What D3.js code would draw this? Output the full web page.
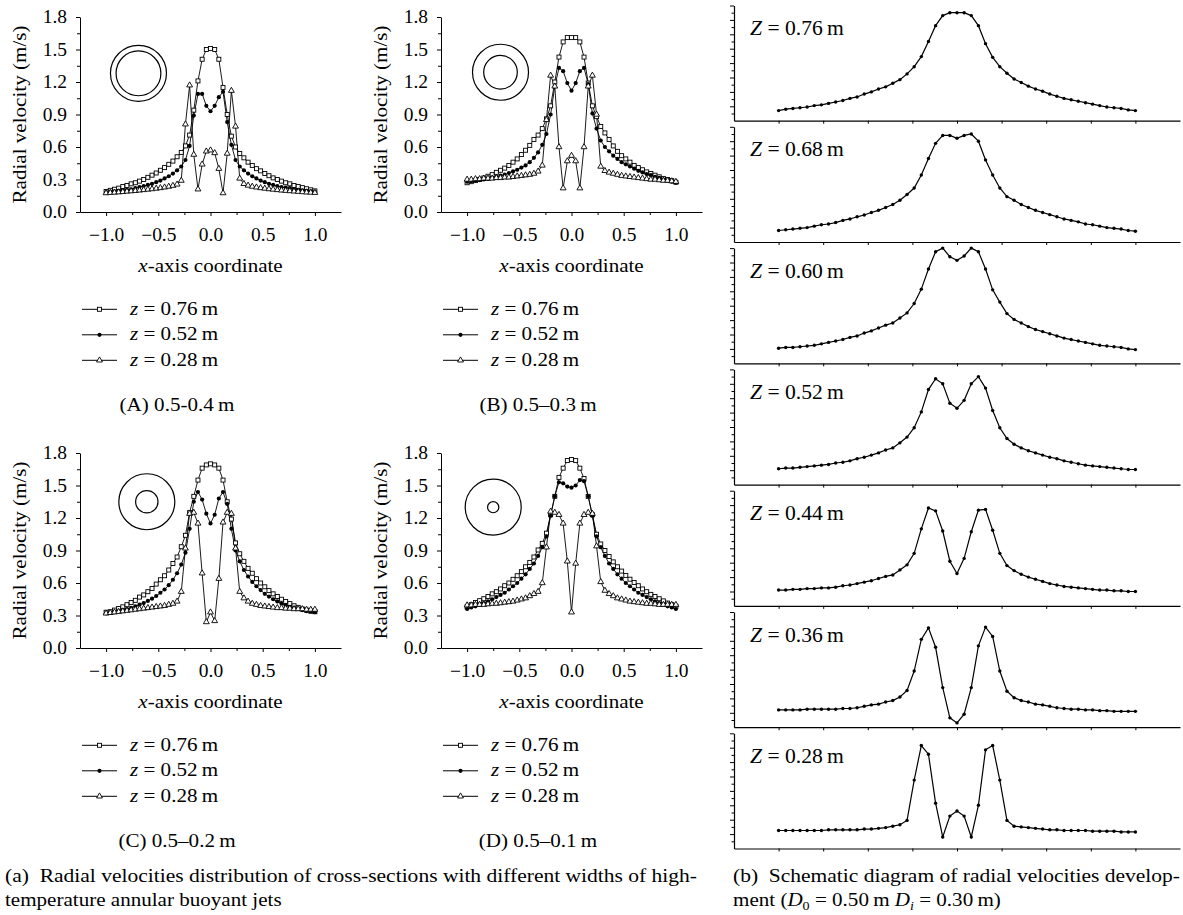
<!DOCTYPE html>
<html><head><meta charset="utf-8">
<script src="https://cdn.jsdelivr.net/npm/d3@7"></script>
<style>
body{margin:0;background:#fff;}
svg text{font-family:"Liberation Serif","Times New Roman",serif;fill:#000;}
</style></head><body>
<svg id="chart" width="1183" height="915"></svg>
<script>
// ---------------- DATA ----------------
const xCoords = [-1.00,-0.96,-0.92,-0.88,-0.84,-0.80,-0.76,-0.72,-0.68,-0.64,-0.60,-0.56,-0.52,-0.48,-0.44,-0.40,-0.36,-0.32,-0.28,-0.24,-0.20,-0.16,-0.12,-0.08,-0.04,0.00,0.04,0.08,0.12,0.16,0.20,0.24,0.28,0.32,0.36,0.40,0.44,0.48,0.52,0.56,0.60,0.64,0.68,0.72,0.76,0.80,0.84,0.88,0.92,0.96,1.00];
const seriesZ = [0.76, 0.52, 0.28];
const panelCaptions = ["(A) 0.5-0.4\u2009m", "(B) 0.5\u20130.3\u2009m", "(C) 0.5\u20130.2\u2009m", "(D) 0.5\u20130.1\u2009m"];
const outerDiameter = 0.5;
const innerDiameters = [0.4, 0.3, 0.2, 0.1];
const yTicks = [0, 0.3, 0.6, 0.9, 1.2, 1.5, 1.8];
const yMinorTicks = [0.15, 0.45, 0.75, 1.05, 1.35, 1.65];
const xTicks = [-1, -0.5, 0, 0.5, 1];
const xMinorTicks = [-0.75, -0.25, 0.25, 0.75];

// Panel A (0.5-0.4 m)
const A_z076 = [0.19,0.20,0.21,0.22,0.235,0.245,0.26,0.27,0.285,0.30,0.32,0.34,0.36,0.385,0.41,0.44,0.47,0.51,0.55,0.61,0.71,0.94,1.21,1.41,1.50,1.51,1.50,1.41,1.15,0.90,0.70,0.60,0.54,0.50,0.46,0.43,0.40,0.38,0.355,0.335,0.315,0.30,0.285,0.27,0.26,0.245,0.235,0.225,0.215,0.205,0.195];
const A_z052 = [0.18,0.185,0.19,0.195,0.20,0.205,0.21,0.22,0.23,0.24,0.25,0.26,0.275,0.29,0.31,0.33,0.355,0.385,0.42,0.48,0.61,0.89,1.09,1.09,0.98,0.93,0.98,1.06,1.11,0.83,0.62,0.48,0.42,0.385,0.355,0.33,0.31,0.29,0.275,0.26,0.25,0.24,0.23,0.225,0.22,0.21,0.205,0.20,0.195,0.19,0.185];
const A_z028 = [0.175,0.178,0.18,0.183,0.186,0.19,0.193,0.196,0.20,0.204,0.208,0.212,0.217,0.222,0.228,0.235,0.243,0.255,0.29,0.81,1.17,0.53,0.21,0.44,0.56,0.57,0.545,0.40,0.175,0.54,1.12,0.79,0.31,0.26,0.245,0.235,0.228,0.222,0.217,0.212,0.208,0.204,0.20,0.197,0.194,0.191,0.188,0.185,0.182,0.18,0.178];
// Panel B (0.5-0.3 m)
const B_z076 = [0.27,0.28,0.29,0.30,0.314,0.33,0.345,0.366,0.385,0.405,0.43,0.46,0.49,0.53,0.57,0.615,0.67,0.71,0.77,0.86,0.98,1.20,1.43,1.57,1.61,1.61,1.61,1.57,1.43,1.19,0.98,0.88,0.79,0.73,0.67,0.61,0.56,0.52,0.49,0.46,0.43,0.41,0.39,0.37,0.355,0.34,0.325,0.31,0.30,0.29,0.275];
const B_z052 = [0.28,0.285,0.29,0.295,0.30,0.305,0.315,0.325,0.335,0.345,0.36,0.375,0.39,0.41,0.43,0.46,0.50,0.55,0.62,0.72,0.90,1.16,1.33,1.30,1.19,1.12,1.19,1.30,1.33,1.18,0.91,0.77,0.66,0.60,0.56,0.52,0.49,0.46,0.44,0.42,0.40,0.38,0.365,0.35,0.34,0.325,0.315,0.30,0.29,0.28,0.27];
const B_z028 = [0.30,0.30,0.305,0.305,0.31,0.31,0.31,0.315,0.315,0.32,0.32,0.325,0.33,0.335,0.34,0.345,0.355,0.375,0.43,0.85,1.26,1.16,0.60,0.22,0.47,0.52,0.47,0.22,0.60,1.16,1.26,0.90,0.42,0.38,0.365,0.355,0.345,0.335,0.33,0.325,0.32,0.315,0.31,0.305,0.30,0.30,0.295,0.29,0.29,0.285,0.28];
// Panel C (0.5-0.2 m)
const C_z076 = [0.33,0.335,0.35,0.365,0.38,0.40,0.42,0.44,0.47,0.49,0.52,0.55,0.59,0.63,0.667,0.72,0.78,0.84,0.935,1.04,1.25,1.40,1.55,1.66,1.69,1.70,1.69,1.66,1.55,1.35,1.19,0.97,0.87,0.80,0.735,0.69,0.64,0.60,0.565,0.53,0.50,0.475,0.45,0.43,0.41,0.39,0.375,0.36,0.35,0.34,0.335];
const C_z052 = [0.32,0.325,0.33,0.34,0.35,0.36,0.37,0.385,0.40,0.415,0.435,0.455,0.48,0.51,0.54,0.58,0.63,0.69,0.77,0.88,1.10,1.35,1.44,1.37,1.24,1.15,1.23,1.38,1.44,1.33,1.10,0.90,0.80,0.72,0.66,0.61,0.57,0.535,0.50,0.475,0.45,0.43,0.41,0.395,0.38,0.37,0.36,0.35,0.34,0.335,0.33];
const C_z028 = [0.32,0.325,0.33,0.335,0.34,0.345,0.35,0.355,0.36,0.365,0.37,0.375,0.38,0.385,0.39,0.40,0.41,0.43,0.52,0.92,1.24,1.25,1.15,0.69,0.24,0.33,0.25,0.64,1.16,1.25,1.24,0.92,0.52,0.46,0.43,0.41,0.40,0.39,0.385,0.38,0.375,0.37,0.37,0.365,0.365,0.36,0.36,0.36,0.355,0.355,0.355];
// Panel D (0.5-0.1 m)
const D_z076 = [0.38,0.40,0.42,0.437,0.455,0.475,0.50,0.52,0.545,0.575,0.60,0.634,0.667,0.705,0.75,0.79,0.84,0.905,0.966,1.06,1.23,1.40,1.575,1.66,1.73,1.74,1.73,1.66,1.565,1.40,1.23,1.05,0.96,0.90,0.845,0.795,0.75,0.71,0.67,0.635,0.605,0.575,0.545,0.52,0.495,0.475,0.455,0.435,0.415,0.40,0.385];
const D_z052 = [0.36,0.375,0.385,0.40,0.415,0.43,0.45,0.47,0.49,0.51,0.54,0.57,0.60,0.64,0.68,0.73,0.78,0.85,0.93,1.03,1.22,1.40,1.53,1.52,1.49,1.48,1.50,1.55,1.54,1.40,1.22,1.03,0.93,0.85,0.78,0.73,0.68,0.64,0.60,0.57,0.54,0.51,0.49,0.47,0.45,0.43,0.415,0.40,0.385,0.375,0.36];
const D_z028 = [0.395,0.395,0.40,0.40,0.40,0.405,0.41,0.41,0.415,0.42,0.425,0.43,0.44,0.45,0.46,0.48,0.50,0.52,0.60,0.93,1.26,1.25,1.23,1.15,0.80,0.33,0.78,1.15,1.23,1.25,1.24,0.94,0.61,0.53,0.50,0.48,0.46,0.45,0.44,0.43,0.425,0.42,0.415,0.41,0.41,0.405,0.40,0.40,0.40,0.40,0.40];

// Right: schematic development (D0 = 0.50 m, Di = 0.30 m)
const rightZ = [0.76, 0.68, 0.60, 0.52, 0.44, 0.36, 0.28];
const R_z076 = [0.14,0.16,0.17,0.18,0.19,0.21,0.22,0.24,0.26,0.28,0.31,0.33,0.37,0.40,0.44,0.47,0.52,0.57,0.65,0.75,0.89,1.10,1.32,1.46,1.50,1.50,1.50,1.46,1.32,1.07,0.88,0.75,0.66,0.58,0.53,0.48,0.44,0.41,0.37,0.34,0.31,0.29,0.27,0.25,0.23,0.21,0.19,0.18,0.17,0.15,0.14];
const R_z068 = [0.16,0.17,0.18,0.19,0.20,0.22,0.24,0.25,0.27,0.30,0.32,0.35,0.375,0.41,0.44,0.48,0.52,0.58,0.66,0.75,0.93,1.16,1.37,1.48,1.48,1.44,1.48,1.50,1.40,1.14,0.93,0.75,0.63,0.58,0.52,0.48,0.44,0.41,0.38,0.35,0.32,0.30,0.28,0.25,0.24,0.22,0.20,0.19,0.18,0.16,0.15];
const R_z060 = [0.21,0.22,0.22,0.23,0.24,0.25,0.27,0.29,0.31,0.33,0.36,0.38,0.42,0.45,0.49,0.53,0.56,0.63,0.70,0.83,1.03,1.31,1.55,1.60,1.48,1.43,1.49,1.60,1.55,1.31,1.02,0.85,0.69,0.61,0.56,0.51,0.47,0.44,0.41,0.38,0.35,0.33,0.31,0.29,0.27,0.25,0.24,0.23,0.22,0.20,0.19];
const R_z052 = [0.22,0.23,0.23,0.24,0.25,0.26,0.27,0.28,0.30,0.31,0.33,0.36,0.38,0.41,0.44,0.48,0.51,0.58,0.66,0.79,1.01,1.32,1.47,1.40,1.13,1.06,1.17,1.40,1.50,1.34,1.03,0.79,0.64,0.56,0.51,0.47,0.44,0.41,0.38,0.36,0.33,0.31,0.29,0.27,0.26,0.25,0.24,0.23,0.22,0.21,0.21];
const R_z044 = [0.22,0.22,0.23,0.23,0.24,0.24,0.25,0.25,0.26,0.28,0.29,0.31,0.33,0.35,0.38,0.41,0.43,0.50,0.57,0.73,1.07,1.36,1.32,1.04,0.62,0.45,0.66,1.03,1.33,1.34,1.05,0.73,0.56,0.49,0.44,0.40,0.37,0.34,0.31,0.29,0.27,0.26,0.25,0.24,0.23,0.22,0.22,0.21,0.21,0.20,0.20];
const R_z036 = [0.24,0.24,0.24,0.24,0.25,0.25,0.25,0.25,0.25,0.26,0.26,0.27,0.29,0.31,0.32,0.35,0.37,0.42,0.51,0.78,1.22,1.38,1.11,0.55,0.13,0.06,0.18,0.55,1.13,1.39,1.26,0.78,0.50,0.41,0.37,0.35,0.32,0.31,0.29,0.27,0.26,0.25,0.25,0.24,0.24,0.23,0.23,0.22,0.22,0.22,0.22];
const R_z028 = [0.25,0.25,0.25,0.25,0.25,0.25,0.25,0.26,0.26,0.26,0.26,0.26,0.27,0.27,0.28,0.29,0.31,0.33,0.39,0.95,1.43,1.31,0.63,0.16,0.45,0.52,0.45,0.16,0.60,1.37,1.43,0.95,0.39,0.31,0.30,0.29,0.28,0.27,0.26,0.26,0.25,0.25,0.25,0.25,0.24,0.24,0.24,0.24,0.23,0.23,0.23];
const rightSeries = [R_z076, R_z068, R_z060, R_z052, R_z044, R_z036, R_z028];
const rightYTicks = [0.1,0.2,0.3,0.4,0.5,0.6,0.7,0.8,0.9,1.0,1.1,1.2,1.3,1.4,1.5,1.6];
const rightXTicks = [-1,-0.75,-0.5,-0.25,0,0.25,0.5,0.75,1];

// ---------------- DRAW ----------------
const svg = d3.select("#chart");
svg.append("rect").attr("width",1183).attr("height",915).attr("fill","#fff");
const FS = 18;
const markerTypes = ["square","dot","triangle"];
const triPath = d3.symbol().type(d3.symbolTriangle).size(15)();

function drawMarker(g, type, cx, cy){
  if(type==="square"){
    g.append("rect").attr("x",cx-2).attr("y",cy-2).attr("width",4).attr("height",4)
      .attr("fill","#fff").attr("stroke","#000").attr("stroke-width",0.9);
  } else if(type==="dot"){
    g.append("circle").attr("cx",cx).attr("cy",cy).attr("r",2.1).attr("fill","#000");
  } else {
    g.append("path").attr("d",triPath).attr("transform",`translate(${cx},${cy})`)
      .attr("fill","#fff").attr("stroke","#000").attr("stroke-width",0.9);
  }
}
function styleAxis(sel){
  sel.select(".domain").attr("stroke","#000").attr("stroke-width",1);
  sel.selectAll(".tick line").attr("stroke","#000").attr("stroke-width",1);
  sel.selectAll("text").attr("font-size",FS).attr("fill","#000").attr("class","tick-label");
}

const PW = 261, PH = 195;
const leftPanels = [
  {left:80,  top:17,  series:[A_z076,A_z052,A_z028], inset:[-0.69,1.28]},
  {left:441, top:17,  series:[B_z076,B_z052,B_z028], inset:[-0.68,1.29]},
  {left:80,  top:453, series:[C_z076,C_z052,C_z028], inset:[-0.61,1.35]},
  {left:441, top:453, series:[D_z076,D_z052,D_z028], inset:[-0.75,1.30]}
];
const insetPxPerM = 112;

leftPanels.forEach((p, pi) => {
  const g = svg.append("g").attr("transform",`translate(${p.left},${p.top})`);
  const x = d3.scaleLinear().domain([-1.25,1.25]).range([0,PW]);
  const y = d3.scaleLinear().domain([0,1.8]).range([PH,0]);

  // axes
  g.append("g").attr("transform",`translate(0,${PH})`)
    .call(d3.axisBottom(x).tickValues(xMinorTicks).tickSize(3).tickSizeOuter(0).tickFormat(""))
    .call(s=>{s.select(".domain").remove(); s.selectAll("line").attr("stroke","#000");});
  g.append("g").attr("transform",`translate(0,${PH})`)
    .call(d3.axisBottom(x).tickValues(xTicks).tickSize(4).tickSizeOuter(0).tickPadding(12).tickFormat(d3.format(".1f")))
    .call(styleAxis);
  g.append("g")
    .call(d3.axisLeft(y).tickValues(yMinorTicks).tickSize(3).tickSizeOuter(0).tickFormat(""))
    .call(s=>{s.select(".domain").remove(); s.selectAll("line").attr("stroke","#000");});
  g.append("g")
    .call(d3.axisLeft(y).tickValues(yTicks).tickSize(4).tickSizeOuter(0).tickPadding(9).tickFormat(d3.format(".1f")))
    .call(styleAxis);

  // axis titles
  g.append("text").attr("class","wide")
    .attr("transform",`translate(-54,${PH/2}) rotate(-90)`)
    .attr("text-anchor","middle").attr("font-size",FS).text("Radial velocity (m/s)")
    .attr("data-len",178);
  const xt = g.append("text").attr("class","wide").attr("x",x(0)).attr("y",255)
    .attr("text-anchor","middle").attr("font-size",FS);
  xt.append("tspan").attr("font-style","italic").text("x");
  xt.append("tspan").text("-axis coordinate");

  // annulus inset
  const cx = x(p.inset[0]), cy = y(p.inset[1]);
  g.append("circle").attr("cx",cx).attr("cy",cy).attr("r",outerDiameter/2*insetPxPerM)
    .attr("fill","none").attr("stroke","#000").attr("stroke-width",1.2);
  g.append("circle").attr("cx",cx).attr("cy",cy).attr("r",innerDiameters[pi]/2*insetPxPerM)
    .attr("fill","none").attr("stroke","#000").attr("stroke-width",1.2);

  // lines
  const line = d3.line().x((d,i)=>x(xCoords[i])).y(d=>y(d));
  p.series.forEach(s => {
    g.append("path").datum(s).attr("d",line).attr("fill","none")
      .attr("stroke","#000").attr("stroke-width",0.9);
  });
  // markers
  p.series.forEach((s, si) => {
    const mg = g.append("g");
    s.forEach((v,i) => drawMarker(mg, markerTypes[si], x(xCoords[i]), y(v)));
  });

  // legend
  seriesZ.forEach((z, k) => {
    const ly = 292.3 + k*25.5;
    g.append("line").attr("x1",2).attr("x2",37).attr("y1",ly).attr("y2",ly)
      .attr("stroke","#000").attr("stroke-width",1);
    drawMarker(g, markerTypes[k], 19.5, ly);
    const t = g.append("text").attr("class","wide").attr("x",50).attr("y",ly+5.5).attr("font-size",FS);
    t.append("tspan").attr("font-style","italic").text("z");
    t.append("tspan").text(" = " + d3.format(".2f")(z) + "\u2009m");
  });

  // caption
  g.append("text").attr("class","wide").attr("x",97).attr("y",394)
    .attr("text-anchor","middle").attr("font-size",FS).text(panelCaptions[pi]);
});

// right panels
const RL = 734, RR = 1180, RB0 = 120.7, RSTEP = 121.3, RH = 115.2;
const rx = d3.scaleLinear().domain([-1.25,1.25]).range([RL,RR]);
rightSeries.forEach((s, k) => {
  const bottom = RB0 + k*RSTEP;
  const ry = d3.scaleLinear().domain([0,1.6]).range([bottom, bottom-RH]);
  const g = svg.append("g");
  g.append("g").attr("transform",`translate(0,${bottom})`)
    .call(d3.axisBottom(rx).tickValues(rightXTicks).tickSize(3).tickSizeOuter(0).tickFormat(""))
    .call(s=>{s.select(".domain").attr("stroke","#000").attr("stroke-width",1.2); s.selectAll("line").attr("stroke","#000");});
  g.append("g").attr("transform",`translate(${RL},0)`)
    .call(d3.axisLeft(ry).tickValues(rightYTicks).tickSizeOuter(0).tickFormat(""))
    .call(s=>{
      s.select(".domain").attr("stroke","#000").attr("stroke-width",1.2);
      s.selectAll(".tick line").attr("stroke","#000").attr("x2",(d)=> (Math.round(d*10)%2===0)? -4 : -2.5);
    });
  const line = d3.line().x((d,i)=>rx(xCoords[i])).y(d=>ry(d));
  g.append("path").datum(s).attr("d",line).attr("fill","none").attr("stroke","#000").attr("stroke-width",1.2);
  g.selectAll("circle.pt").data(s).join("circle").attr("class","pt")
    .attr("cx",(d,i)=>rx(xCoords[i])).attr("cy",d=>ry(d)).attr("r",1.7).attr("fill","#000");
  const t = g.append("text").attr("class","wideR").attr("x",750).attr("y",bottom-RH+29.5).attr("font-size",20);
  t.append("tspan").attr("font-style","italic").text("Z");
  t.append("tspan").text(" = " + d3.format(".2f")(rightZ[k]) + "\u2009m");
});

// figure captions
svg.append("text").attr("x",5).attr("y",882).attr("font-size",FS).attr("data-len",692).attr("class","just")
  .text("(a)\u00a0 Radial velocities distribution of cross-sections with different widths of high-");
svg.append("text").attr("class","wide").attr("x",5).attr("y",906).attr("font-size",FS)
  .text("temperature annular buoyant jets");
svg.append("text").attr("x",733).attr("y",882).attr("font-size",FS).attr("data-len",447).attr("class","just")
  .text("(b)\u00a0 Schematic diagram of radial velocities develop-");
const cb = svg.append("text").attr("class","wide").attr("x",733).attr("y",906).attr("font-size",FS);
cb.append("tspan").text("ment (");
cb.append("tspan").attr("font-style","italic").text("D");
cb.append("tspan").attr("font-size",12).attr("dy",4).text("0");
cb.append("tspan").attr("dy",-4).text(" = 0.50\u2009m ");
cb.append("tspan").attr("font-style","italic").text("D");
cb.append("tspan").attr("font-size",12).attr("font-style","italic").attr("dy",4).text("i");
cb.append("tspan").attr("dy",-4).text(" = 0.30\u2009m)");

// widen text to match the reference's broad serif
function widen(sel, f){
  sel.each(function(){
    const el = d3.select(this);
    const fixed = el.attr("data-len");
    const L = this.getComputedTextLength();
    if(L>0) el.attr("textLength", fixed ? fixed : (L*f).toFixed(1)).attr("lengthAdjust","spacingAndGlyphs");
  });
}
widen(svg.selectAll("text.wide"), 1.17);
widen(svg.selectAll("text.just"), 1.0);
widen(svg.selectAll("text.wideR"), 1.08);
widen(svg.selectAll("text.tick-label"), 1.08);
</script></body></html>
